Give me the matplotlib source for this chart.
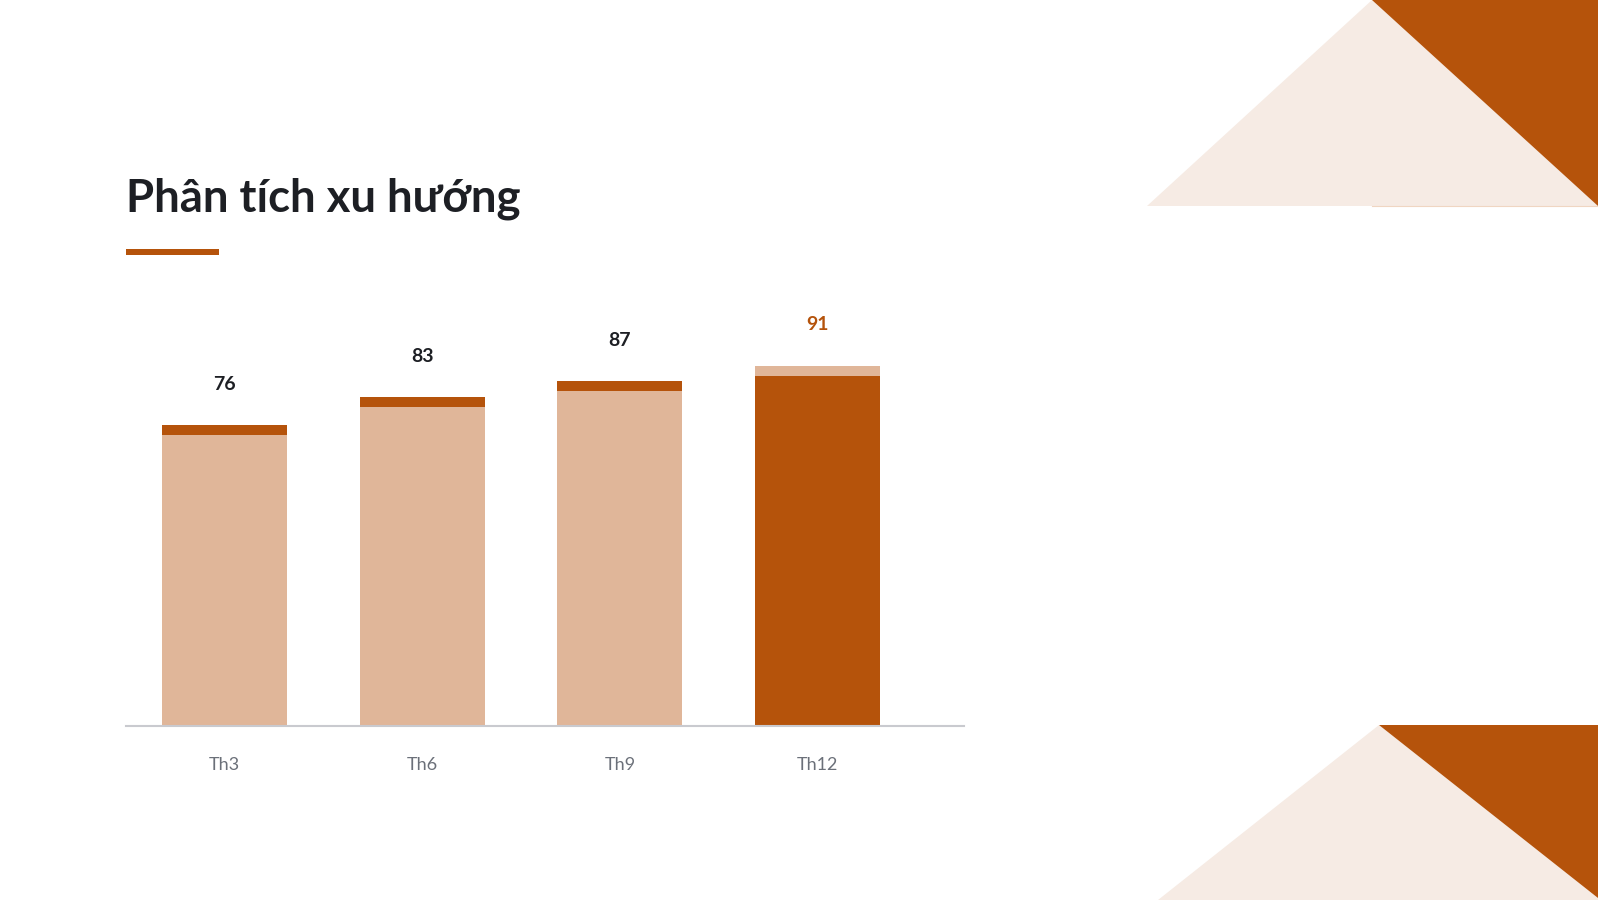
import matplotlib
matplotlib.use("Agg")
import matplotlib.pyplot as plt
from matplotlib.patches import Polygon, Rectangle

# ---- data ----
months = ["Th3", "Th6", "Th9", "Th12"]
values = [76, 83, 87, 91]
highlight = [False, False, False, True]
title = "Phân tích xu hướng"

# ---- style ----
DARK = "#b5530b"
LIGHT = "#e0b699"
PALE = "#f6ebe4"
TEXT = "#1d1f24"
GREY = "#6b7079"
AXIS = "#c9cacf"
CAP = 2.5  # thickness of the accent band at top of each bar (data units)

W, H = 1598, 900
fig = plt.figure(figsize=(W / 100, H / 100), dpi=100)
fig.patch.set_facecolor("white")

# background decoration layer in pixel coordinates
bg = fig.add_axes([0, 0, 1, 1])
bg.set_xlim(0, W)
bg.set_ylim(H, 0)
bg.axis("off")
bg.add_patch(Polygon([(1147, 206), (1372, 0), (1598, 206)], closed=True, fc=PALE, ec="none"))
bg.add_patch(Polygon([(1372, 0), (1598, 0), (1598, 206)], closed=True, fc=DARK, ec="none"))
bg.plot([1372, 1598], [206, 206], color="#f0d6c2", lw=0.8)
bg.add_patch(Polygon([(1158, 900), (1379, 725), (1598, 898), (1598, 900)], closed=True, fc=PALE, ec="none"))
bg.add_patch(Polygon([(1379, 725), (1598, 725), (1598, 898)], closed=True, fc=DARK, ec="none"))

# title and underline
bg.text(126, 212, title, fontfamily=["Lato", "DejaVu Sans"], fontweight="bold",
        fontsize=32.8, color=TEXT, ha="left", va="baseline")
bg.add_patch(Rectangle((126, 249), 93, 6, fc=DARK, ec="none"))

# main chart axes
left_px, right_px, base_px, top_px = 126, 964, 726, 300
ax = fig.add_axes([left_px / W, (H - base_px) / H, (right_px - left_px) / W, (base_px - top_px) / H])
ax.set_facecolor("none")
px_per_unit = 3.96
ax.set_ylim(0, (base_px - top_px) / px_per_unit)
ax.set_xlim(-0.498, 3.741)

x = list(range(len(months)))
bw = 0.632
for i, (v, hl) in enumerate(zip(values, highlight)):
    body = DARK if hl else LIGHT
    cap = LIGHT if hl else DARK
    ax.bar(i, v - CAP, width=bw, color=body, edgecolor="none", zorder=2)
    ax.bar(i, CAP, bottom=v - CAP, width=bw, color=cap, edgecolor="none", zorder=2)
    ax.annotate(str(v), xy=(i, v), xytext=(0, 29.5), textcoords="offset points",
                ha="center", va="center", fontsize=14, fontweight="bold",
                fontfamily=["Lato", "DejaVu Sans"], color=DARK if hl else TEXT)

ax.set_xticks(x)
ax.set_xticklabels(months, fontfamily=["Lato", "DejaVu Sans"], fontsize=13, color=GREY)
ax.tick_params(axis="x", length=0, pad=22)
ax.set_yticks([])
for s in ["top", "left", "right"]:
    ax.spines[s].set_visible(False)
ax.spines["bottom"].set_color(AXIS)
ax.spines["bottom"].set_linewidth(1.5)
ax.spines["bottom"].set_zorder(3)

fig.savefig("out.png", dpi=100, facecolor="white")
